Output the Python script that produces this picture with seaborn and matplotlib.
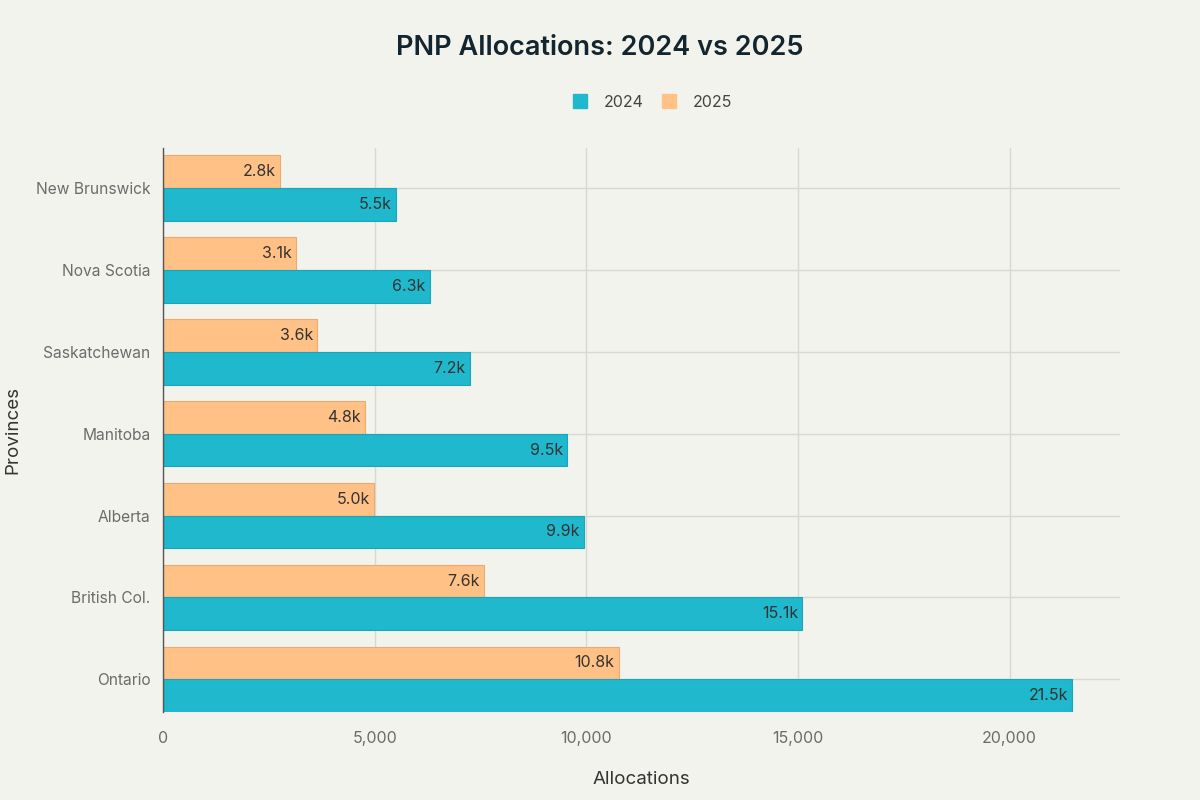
import pandas as pd
import matplotlib.pyplot as plt
import seaborn as sns
from matplotlib.lines import Line2D

# values
provinces = ['New Brunswick', 'Nova Scotia', 'Saskatchewan', 'Manitoba', 'Alberta', 'British Col.', 'Ontario']
alloc_2024 = [5500, 6300, 7240, 9540, 9940, 15100, 21480]
alloc_2025 = [2760, 3140, 3640, 4760, 4980, 7580, 10760]
years = ['2024', '2025']

teal = '#1FB8CD'
orange = '#FFC185'
bg = '#F3F3EE'
grid_c = '#D9D9D4'

df = pd.DataFrame({
    'Province': provinces * 2,
    'Year': ['2024'] * len(provinces) + ['2025'] * len(provinces),
    'Allocations': alloc_2024 + alloc_2025,
})

sns.set_theme(style='white')
plt.rcParams['font.family'] = ['Inter', 'DejaVu Sans']

fig = plt.figure(figsize=(12, 8), dpi=100, facecolor=bg)
ax = fig.add_axes([0.136, 0.11, 0.797, 0.705])
ax.set_facecolor(bg)

# 2025 drawn on top of each pair, like the reference
ax = sns.barplot(data=df, y='Province', x='Allocations', hue='Year',
                 hue_order=['2025', '2024'], order=provinces,
                 palette={'2024': teal, '2025': orange}, saturation=1,
                 orient='h', width=0.8, ax=ax, legend=False)

edge = {'2025': '#EBAA70', '2024': '#1AA5B8'}
for cont, yr in zip(ax.containers, ['2025', '2024']):
    for bar, v in zip(cont, cont.datavalues):
        bar.set_edgecolor(edge[yr])
        bar.set_linewidth(0.8)
        ax.annotate(f'{v/1000:.1f}k', (bar.get_x() + bar.get_width(), bar.get_y() + bar.get_height() / 2),
                    xytext=(-3, 0), textcoords='offset points', ha='right', va='center',
                    fontsize=11.5, color='#333333')

ax.set_xlim(0, 22600)
ax.set_ylim(6.4, -0.49)
ax.set_xticks([0, 5000, 10000, 15000, 20000])
ax.set_xticklabels(['0', '5,000', '10,000', '15,000', '20,000'])
ax.grid(True, color=grid_c, linewidth=1)
ax.set_axisbelow(True)
for s in ['top', 'right', 'bottom']:
    ax.spines[s].set_visible(False)
ax.spines['left'].set_color('#555555')
ax.spines['left'].set_linewidth(1)
ax.tick_params(axis='x', length=10, color=grid_c, labelsize=11.5, labelcolor='#6B6B6B', pad=4)
ax.tick_params(axis='y', length=5, color=grid_c, labelsize=11.2, labelcolor='#6B6B6B', pad=4)

ax.set_xlabel('Allocations', fontsize=13.5, color='#333333')
ax.set_ylabel('Provinces', fontsize=13.5, color='#333333')
ax.xaxis.set_label_coords(0.5, -0.105)
ax.yaxis.set_label_coords(-0.148, 0.5)

fig.suptitle('PNP Allocations: 2024 vs 2025', x=0.5, y=0.94, va='center',
             fontsize=19.5, fontweight='semibold', color='#13262F')

handles = [Line2D([], [], marker='s', linestyle='', markersize=10, color=teal, label='2024'),
           Line2D([], [], marker='s', linestyle='', markersize=10, color=orange, label='2025')]
fig.legend(handles=handles, loc='center', bbox_to_anchor=(0.54, 0.872), ncol=2, frameon=False,
           fontsize=11.5, labelcolor='#444444', handletextpad=0.5, columnspacing=0.6)

fig.savefig('out.png', dpi=100, facecolor=bg)
